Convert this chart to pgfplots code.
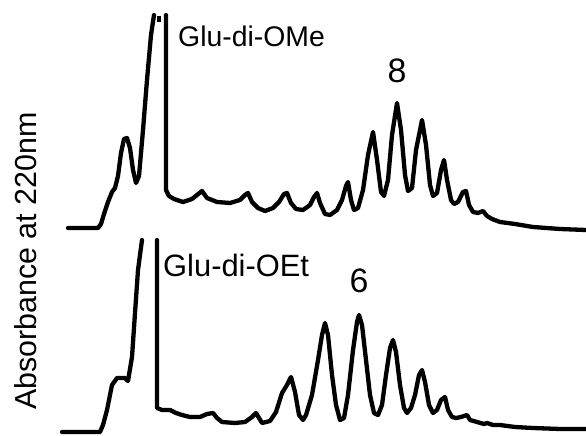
\documentclass[border=0pt]{standalone}
\usepackage{pgfplots}
\pgfplotsset{compat=1.18}
\usepackage{fontspec}
\setmainfont{Liberation Sans}
\begin{document}
\begin{tikzpicture}[x=1bp,y=1bp]
\useasboundingbox (0,0) rectangle (586,436);
\begin{axis}[
  at={(0,0)}, anchor=south west,
  scale only axis, width=586bp, height=436bp,
  xmin=0, xmax=586, ymin=0, ymax=436, y dir=reverse,
  axis lines=none, ticks=none, clip=true,
  unbounded coords=jump,
]
% upper chromatogram (Glu-di-OMe)
\addplot[black, line width=4.3bp, line join=round, line cap=round] coordinates {
(68,228) (98,228) (101,224) (104,214) (108,202) (112,192) (115,188) (118,176) (121,153) (124,139) (127,138) (130,148) (133,170) (136,183) (139,176) (143,130) (147,80) (151,35) (154,15)
(160,nan)
(166,15) (166,190) (169,196) (174,199) (183,202) (192,199) (197,195) (202,191) (207,198) (217,202) (230,203) (240,200) (245,195) (248,193) (252,202) (258,208) (265,211) (273,208) (279,202) (284,194) (287,193) (291,203) (296,209) (303,210) (310,205) (314,197) (317,193) (320,203) (325,214) (330,215) (337,210) (342,200) (346,186) (348,182) (351,200) (354,210) (358,208) (363,190) (368,155) (373,132) (377,160) (381,192) (384,196) (388,180) (392,135) (397,103) (401,130) (405,175) (408,191) (412,188) (416,150) (422,120) (426,145) (430,185) (433,196) (437,193) (441,170) (444,160) (447,180) (451,200) (454,204) (458,202) (463,192) (466,191) (469,205) (473,212) (478,213) (483,211) (487,216) (492,219) (500,222) (515,224) (533,227) (560,229) (586,230)
};
% small mark at the clipped top of the big peak
\addplot[black, line width=3.2bp] coordinates {(159,16) (159,22)};
% lower chromatogram (Glu-di-OEt)
\addplot[black, line width=4.3bp, line join=round, line cap=round] coordinates {
(62,432) (100,432) (103,425) (107,410) (112,385) (117,378) (125,378) (128,381) (132,357) (135,313) (138,270) (142,240)
(150,nan)
(157,240) (157,408) (162,410) (170,410) (176,413) (182,415) (190,417) (200,417) (207,414) (213,413) (217,418) (222,422) (235,423) (245,422) (252,417) (256,413) (259,418) (262,423) (270,421) (276,412) (282,393) (287,385) (291,377) (295,392) (299,415) (303,420) (306,415) (312,395) (318,360) (322,335) (325,323) (328,335) (332,375) (336,405) (340,420) (344,418) (348,395) (353,350) (357,322) (359,315) (362,325) (366,360) (370,395) (374,413) (378,415) (382,405) (386,375) (390,348) (393,340) (396,352) (400,385) (404,408) (407,413) (411,408) (415,395) (419,375) (422,370) (425,382) (429,405) (433,413) (437,410) (441,400) (445,397) (448,410) (452,417) (456,418) (461,417) (467,415) (470,420) (477,422) (484,424) (487,423) (493,425) (500,425) (515,427) (533,428) (560,429) (586,429)
};
\node[anchor=base west, inner sep=0pt, font=\fontsize{28.5}{32}\selectfont] at (axis cs:178,47) {Glu-di-OMe};
\node[anchor=base, inner sep=0pt, font=\fontsize{34}{38}\selectfont] at (axis cs:397,83) {8};
\node[anchor=base west, inner sep=0pt, font=\fontsize{31}{35}\selectfont] at (axis cs:163,277) {Glu-di-OEt};
\node[anchor=base, inner sep=0pt, font=\fontsize{34}{38}\selectfont] at (axis cs:359,293) {6};
\node[anchor=base, rotate=90, inner sep=0pt, font=\fontsize{30.5}{34}\selectfont] at (axis cs:36,261) {Absorbance at 220nm};
\end{axis}
\end{tikzpicture}
\end{document}
